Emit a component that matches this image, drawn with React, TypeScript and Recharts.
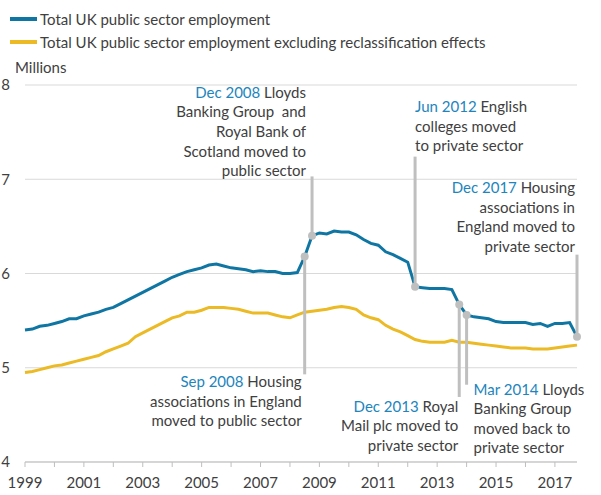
import React from 'react';
import {
  LineChart, Line, XAxis, YAxis, CartesianGrid, ReferenceLine, ReferenceDot,
} from 'recharts';

// ---- data ----
const years = [1999, 2000, 2001, 2002, 2003, 2004, 2005, 2006, 2007, 2008, 2009, 2010, 2011, 2012, 2013, 2014, 2015, 2016, 2017];
const quarterMonths = ['Mar', 'Jun', 'Sep', 'Dec'];
const periods: string[] = [];
years.forEach((y) => quarterMonths.forEach((m) => periods.push(`${m} ${y}`)));

const totalEmployment = [
  5.40, 5.41, 5.44, 5.45, 5.47, 5.49, 5.52, 5.52, 5.55, 5.57, 5.59, 5.62, 5.64, 5.68, 5.72, 5.76,
  5.80, 5.84, 5.88, 5.92, 5.96, 5.99, 6.02, 6.04, 6.06, 6.09, 6.10, 6.08, 6.06, 6.05, 6.04, 6.02,
  6.03, 6.02, 6.02, 6.00, 6.00, 6.01, 6.18, 6.40, 6.43, 6.42, 6.45, 6.44, 6.44, 6.41, 6.36, 6.32,
  6.30, 6.23, 6.20, 6.16, 6.12, 5.86, 5.85, 5.84, 5.84, 5.84, 5.83, 5.67, 5.56, 5.54, 5.53, 5.52,
  5.49, 5.48, 5.48, 5.48, 5.48, 5.46, 5.47, 5.44, 5.47, 5.47, 5.48, 5.33,
];
const exclReclassification = [
  4.95, 4.96, 4.98, 5.00, 5.02, 5.03, 5.05, 5.07, 5.09, 5.11, 5.13, 5.17, 5.20, 5.23, 5.26, 5.33,
  5.37, 5.41, 5.45, 5.49, 5.53, 5.55, 5.59, 5.59, 5.61, 5.64, 5.64, 5.64, 5.63, 5.62, 5.60, 5.58,
  5.58, 5.58, 5.56, 5.54, 5.53, 5.56, 5.59, 5.60, 5.61, 5.62, 5.64, 5.65, 5.64, 5.62, 5.56, 5.53,
  5.51, 5.45, 5.41, 5.38, 5.34, 5.30, 5.28, 5.27, 5.27, 5.27, 5.29, 5.27, 5.27, 5.26, 5.25, 5.24,
  5.23, 5.22, 5.21, 5.21, 5.21, 5.20, 5.20, 5.20, 5.21, 5.22, 5.23, 5.24,
];
const yTicks = [4, 5, 6, 7, 8];
const xTickPeriods = years.map((y) => `Mar ${y}`);

const seriesNames = [
  'Total UK public sector employment',
  'Total UK public sector employment excluding reclassification effects',
];

const data = periods.map((p, i) => ({
  period: p,
  total: totalEmployment[i],
  excl: exclReclassification[i],
}));

// ---- annotations (event period, leader end value, text anchor value) ----
const annotations = [
  { period: 'Sep 2008', lineEnd: 4.93, textAt: 4.85, anchor: 'end', dx: -3, date: 'Sep 2008', lines: ['Housing', 'associations in England', 'moved to public sector'] },
  { period: 'Dec 2008', lineEnd: 7.03, textAt: 7.92, anchor: 'end', dx: -6, date: 'Dec 2008', lines: ['Lloyds', 'Banking Group  and', 'Royal Bank of', 'Scotland moved to', 'public sector'] },
  { period: 'Jun 2012', lineEnd: 7.24, textAt: 7.77, anchor: 'start', dx: 0, date: 'Jun 2012', lines: ['English', 'colleges moved', 'to private sector'] },
  { period: 'Dec 2013', lineEnd: 4.69, textAt: 4.59, anchor: 'end', dx: -1, date: 'Dec 2013', lines: ['Royal', 'Mail plc moved to', 'private sector'] },
  { period: 'Mar 2014', lineEnd: 4.82, textAt: 4.77, anchor: 'start', dx: 7, date: 'Mar 2014', lines: ['Lloyds', 'Banking Group', 'moved back to', 'private sector'] },
  { period: 'Dec 2017', lineEnd: 6.20, textAt: 6.91, anchor: 'end', dx: -2, date: 'Dec 2017', lines: ['Housing', 'associations in', 'England moved to', 'private sector'] },
];

// ---- styles ----
const FONT = 'Lato, "Open Sans", sans-serif';
const BLUE = '#0F76A3';
const YELLOW = '#EBBA25';
const DATE_BLUE = '#2185BD';
const TEXT = '#404040';
const LEADER = '#BFBFBF';
const LINE_H = 19.6;

const AnnotationText = (props: any) => {
  const { viewBox, ann } = props;
  if (!viewBox) return null;
  const x = viewBox.x + ann.dx;
  const y = viewBox.y;
  return (
    <text x={x} y={y} textAnchor={ann.anchor} fontFamily={FONT} fontSize={15} fill={TEXT} style={{ whiteSpace: 'pre' }}>
      {ann.lines.map((ln: string, i: number) => (
        <tspan key={i} x={x} y={y + i * LINE_H} dy="0.35em">
          {i === 0 ? <tspan fill={DATE_BLUE}>{ann.date} </tspan> : null}
          {ln}
        </tspan>
      ))}
    </text>
  );
};

const MillionsLabel = (props: any) => {
  const { viewBox } = props;
  if (!viewBox) return null;
  return (
    <text x={15} y={viewBox.y - 17} dy="0.35em" fontFamily={FONT} fontSize={15} fill={TEXT}>
      Millions
    </text>
  );
};

export default function App() {
  const valueOf = (p: string) => totalEmployment[periods.indexOf(p)];
  return (
    <div style={{ position: 'absolute', left: 0, top: 0, width: 601, height: 495, background: '#fff' }}>
      <div style={{ position: 'absolute', left: 0, top: 0, fontFamily: FONT, fontSize: 15, color: TEXT }}>
        {seriesNames.map((name, i) => (
          <div key={name} style={{ position: 'absolute', left: 10, top: 9 + i * 23, height: 20, display: 'flex', alignItems: 'center', whiteSpace: 'nowrap' }}>
            <span style={{ display: 'inline-block', width: 27, height: 4, background: i === 0 ? BLUE : YELLOW, marginRight: 3 }} />
            <span>{name}</span>
          </div>
        ))}
      </div>
      <LineChart
        width={601}
        height={495}
        data={data}
        margin={{ top: 85, right: 24, bottom: 3, left: 0 }}
        style={{ position: 'absolute', left: 0, top: 0 }}
      >
        <CartesianGrid horizontal vertical={false} stroke="#D9D9D9" strokeWidth={1} />
        <XAxis
          dataKey="period"
          ticks={xTickPeriods}
          interval={0}
          height={30}
          tickSize={5}
          tickMargin={10}
          stroke="#BFBFBF"
          tick={{ fill: TEXT, fontSize: 15, fontFamily: FONT }}
          tickFormatter={(p: string) => {
            const y = Number(p.split(' ')[1]);
            return (y - 1999) % 2 === 0 ? String(y) : '';
          }}
        />
        <YAxis
          type="number"
          domain={[4, 8]}
          ticks={yTicks}
          width={25}
          axisLine={false}
          tickLine={false}
          tickSize={0}
          tickMargin={15}
          tick={{ fill: TEXT, fontSize: 15, fontFamily: FONT }}
          label={<MillionsLabel />}
        />
        <Line dataKey="excl" stroke={YELLOW} strokeWidth={3} dot={false} isAnimationActive={false} />
        <Line dataKey="total" stroke={BLUE} strokeWidth={3} dot={false} isAnimationActive={false} />
        {annotations.map((a) => (
          <ReferenceLine
            key={`l-${a.period}`}
            segment={[{ x: a.period, y: valueOf(a.period) }, { x: a.period, y: a.lineEnd }]}
            stroke={LEADER}
            strokeWidth={3}
          />
        ))}
        {annotations.map((a) => (
          <ReferenceDot key={`d-${a.period}`} x={a.period} y={valueOf(a.period)} r={4} fill={LEADER} stroke="none" />
        ))}
        {annotations.map((a) => (
          <ReferenceDot
            key={`t-${a.period}`}
            x={a.period}
            y={a.textAt}
            r={0}
            fill="none"
            stroke="none"
            label={<AnnotationText ann={a} />}
          />
        ))}
      </LineChart>
    </div>
  );
}
